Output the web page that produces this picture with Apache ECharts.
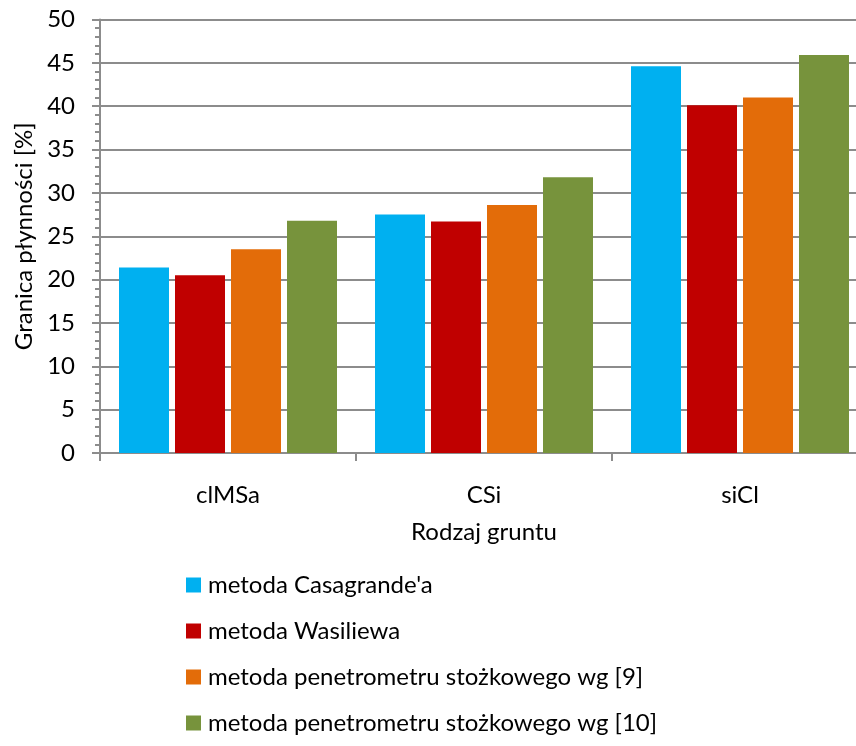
<!DOCTYPE html>
<html>
<head>
<meta charset="utf-8">
<script src="https://cdn.jsdelivr.net/npm/echarts@6/dist/echarts.min.js"></script>
<style>html,body{margin:0;padding:0;background:#fff;overflow:hidden}#c{width:868px;height:746px}</style>
</head>
<body>
<div id="c"></div>
<script>
var categories = ['clMSa', 'CSi', 'siCl'];
var seriesNames = ["metoda Casagrande'a", 'metoda Wasiliewa', 'metoda penetrometru stożkowego wg [9]', 'metoda penetrometru stożkowego wg [10]'];
var casagrande = [21.4, 27.5, 44.6];
var wasiliew = [20.5, 26.7, 40.1];
var penetrometr9 = [23.5, 28.6, 41.0];
var penetrometr10 = [26.8, 31.8, 45.9];
var yTicks = [0, 5, 10, 15, 20, 25, 30, 35, 40, 45, 50];

var colors = ['#00B0F0', '#C00000', '#E36C09', '#77933C'];
var values = [casagrande, wasiliew, penetrometr9, penetrometr10];
var font = 'Lato, "Noto Sans", sans-serif';

var chart = echarts.init(document.getElementById('c'), null, {renderer: 'canvas'});
chart.setOption({
  animation: false,
  color: colors,
  grid: {left: 100, right: 0, top: 19.5, bottom: 293},
  legend: {
    orient: 'vertical', left: 186, top: 573, padding: 0,
    itemWidth: 15, itemHeight: 15, itemGap: 22,
    icon: 'rect',
    textStyle: {fontFamily: font, fontSize: 24, color: '#000', lineHeight: 24, padding: [0,0,0,2]},
    data: seriesNames
  },
  xAxis: {
    type: 'category', data: categories,
    name: 'Rodzaj gruntu', nameLocation: 'middle', nameGap: 67,
    nameTextStyle: {fontFamily: font, fontSize: 24, color: '#000'},
    axisLine: {lineStyle: {color: '#8c8c8c', width: 2}},
    axisTick: {show: true, alignWithLabel: false, length: 8, lineStyle: {color: '#8c8c8c', width: 2}},
    axisLabel: {fontFamily: font, fontSize: 24, color: '#000', margin: 30}
  },
  yAxis: [{
    type: 'value', min: 0, max: 50, interval: 5,
    name: 'Granica płynności [%]', nameLocation: 'middle', nameGap: 60,
    nameTextStyle: {fontFamily: font, fontSize: 24, color: '#000'},
    axisLine: {show: true, lineStyle: {color: '#8c8c8c', width: 2}},
    axisTick: {show: true, length: 8, lineStyle: {color: '#8c8c8c', width: 2}},
    axisLabel: {fontFamily: font, fontSize: 24, color: '#000', margin: 25,
      formatter: function(v){ return yTicks.indexOf(v) >= 0 ? String(v) : ''; }},
    splitLine: {show: true, lineStyle: {color: '#8c8c8c', width: 2}}
  }, {
    type: 'value', min: 0, max: 50, interval: 5, position: 'left', offset: 0,
    axisLine: {show: false},
    axisTick: {show: false},
    axisLabel: {show: false},
    splitLine: {show: false},
    minorTick: {show: true, splitNumber: 5, length: 5, lineStyle: {color: '#8c8c8c', width: 2}},
    axisPointer: {show: false}
  }],
  series: seriesNames.map(function(n, i){
    return {name: n, type: 'bar', data: values[i], barWidth: 50, barGap: '12%',
      itemStyle: {color: colors[i]}};
  })
});
</script>
</body>
</html>
